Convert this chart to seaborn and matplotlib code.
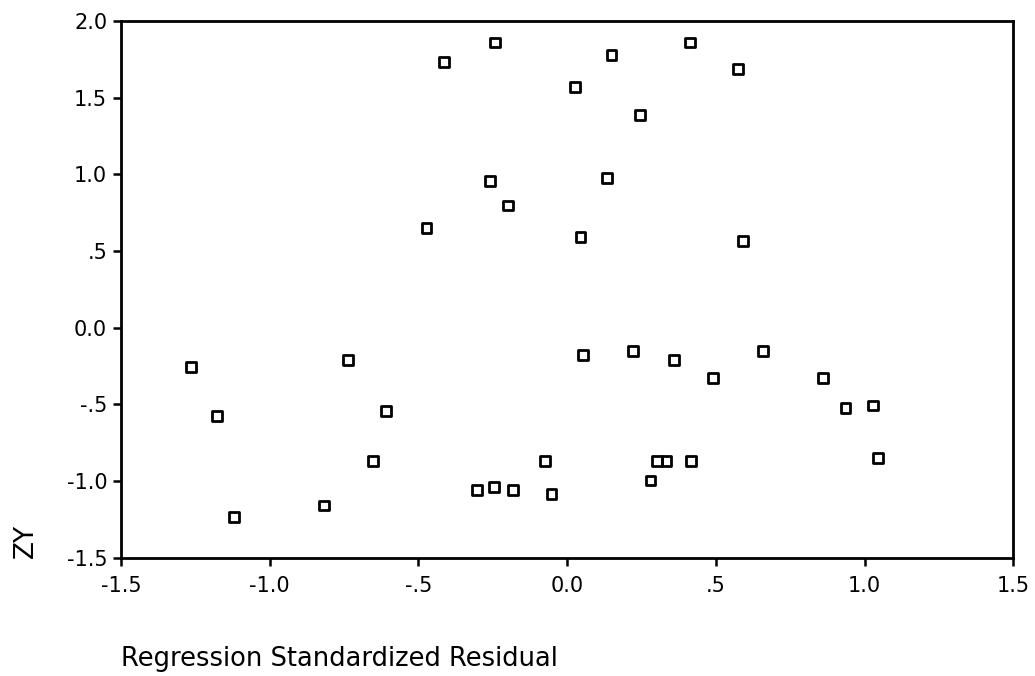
import matplotlib
matplotlib.use("Agg")
import matplotlib.pyplot as plt
import seaborn as sns
import pandas as pd

# Values
residual = [-1.265, -1.178, -1.119, -0.819, -0.738, -0.654, -0.610, -0.473,
            -0.414, -0.304, -0.260, -0.245, -0.243, -0.200, -0.183, -0.075,
            -0.053, 0.025, 0.045, 0.053, 0.133, 0.149, 0.221, 0.244,
            0.280, 0.303, 0.334, 0.359, 0.412, 0.417, 0.490, 0.574,
            0.590, 0.659, 0.861, 0.936, 1.027, 1.044]
zy = [-0.259, -0.574, -1.237, -1.160, -0.209, -0.867, -0.541, 0.652,
      1.732, -1.056, 0.956, -1.039, 1.860, 0.797, -1.056, -0.867,
      -1.084, 1.571, 0.593, -0.176, 0.976, 1.778, -0.150, 1.389,
      -0.997, -0.867, -0.867, -0.211, 1.860, -0.867, -0.328, 1.686,
      0.567, -0.150, -0.328, -0.524, -0.508, -0.850]

x_ticks = [-1.5, -1.0, -0.5, 0.0, 0.5, 1.0, 1.5]
x_tick_labels = ["-1.5", "-1.0", "-.5", "0.0", ".5", "1.0", "1.5"]
y_ticks = [-1.5, -1.0, -0.5, 0.0, 0.5, 1.0, 1.5, 2.0]
y_tick_labels = ["-1.5", "-1.0", "-.5", "0.0", ".5", "1.0", "1.5", "2.0"]

df = pd.DataFrame({"residual": residual, "zy": zy})

sns.set_theme(style="ticks")
plt.rcParams["font.family"] = ["DejaVu Sans"]

fig = plt.figure(figsize=(10.35, 6.76), dpi=100)
ax = fig.add_axes([0.117, 0.175, 0.862, 0.794])

sns.scatterplot(data=df, x="residual", y="zy", marker="s", s=50,
                facecolor="none", edgecolor="black", linewidth=2.0, ax=ax)

ax.set_xlim(-1.5, 1.5)
ax.set_ylim(-1.5, 2.0)
ax.set_xticks(x_ticks)
ax.set_xticklabels(x_tick_labels)
ax.set_yticks(y_ticks)
ax.set_yticklabels(y_tick_labels)
ax.tick_params(direction="out", length=6, width=1.8, colors="black",
               labelsize=15, pad=4)
ax.tick_params(axis="x", pad=7)

for side in ["top", "right", "left", "bottom"]:
    ax.spines[side].set_visible(True)
    ax.spines[side].set_linewidth(2.0)
    ax.spines[side].set_color("black")

ax.set_xlabel("Regression Standardized Residual", fontsize=18.5, loc="left",
              labelpad=36, color="black")
ax.set_ylabel("ZY", fontsize=19, loc="bottom", labelpad=20, color="black")

fig.savefig("out.png", dpi=100, facecolor="white")
